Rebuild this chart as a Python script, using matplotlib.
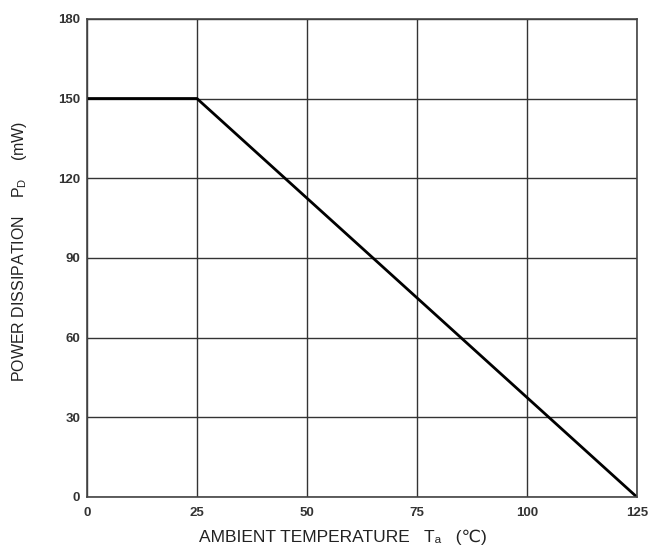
import matplotlib.pyplot as plt

plt.rcParams['font.family'] = ['Liberation Sans', 'DejaVu Sans']
plt.rcParams['mathtext.fontset'] = 'custom'
plt.rcParams['mathtext.rm'] = 'Liberation Sans'

# derating curve
temp = [0, 25, 125]
power = [150, 150, 0]
xticks = [0, 25, 50, 75, 100, 125]
yticks = [0, 30, 60, 90, 120, 150, 180]

fig = plt.figure(figsize=(6.64, 5.54), dpi=100)
ax = fig.add_axes([0.131, 0.103, 0.828, 0.863])

ax.plot(temp, power, color='black', linewidth=2.0, solid_capstyle='butt')

ax.set_xlim(0, 125)
ax.set_ylim(0, 180)
ax.set_xticks(xticks)
ax.set_yticks(yticks)
ax.tick_params(length=0, labelsize=9.5, colors='#333333')
ax.tick_params(axis='x', pad=7)
ax.tick_params(axis='y', pad=5)
for lab in ax.get_xticklabels() + ax.get_yticklabels():
    lab.set_fontweight('bold')
ax.grid(True, color='#333333', linewidth=1.0)
for s in ax.spines.values():
    s.set_color('#444444')
    s.set_linewidth(1.2)

ax.set_xlabel('AMBIENT TEMPERATURE   T\u2090   (\u2103)',
              fontsize=12.5, color='#222222')
ax.set_ylabel(r'POWER DISSIPATION    $\mathregular{P_D}$    (mW)',
              fontsize=11.5, color='#222222')
ax.xaxis.set_label_coords(0.465, -0.068)
ax.yaxis.set_label_coords(-0.105, 0.513)

plt.savefig('out.png', dpi=100)
